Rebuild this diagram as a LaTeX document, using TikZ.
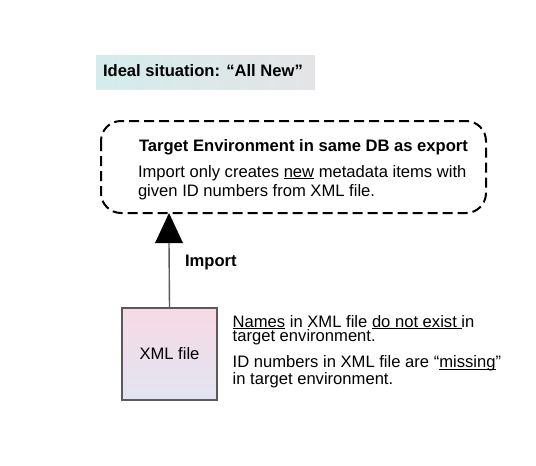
\documentclass[tikz,border=0pt]{standalone}
\usepackage{fontspec}
\setmainfont{Liberation Sans}
\newcommand\myul[1]{\setbox0\hbox{#1}\rlap{\rule[-1.6pt]{\wd0}{0.9pt}}\box0\relax}
\definecolor{titlebgA}{RGB}{212,236,236}
\definecolor{titlebgB}{RGB}{228,228,230}
\definecolor{xmlA}{RGB}{246,218,228}
\definecolor{xmlB}{RGB}{226,228,242}
\definecolor{edgegray}{RGB}{90,90,90}
\tikzset{
  txt/.style={inner sep=0pt, outer sep=0pt, anchor=base west, align=left, font=\fontsize{16.6}{18.5}\selectfont},
  boldtxt/.style={txt, font=\fontsize{16.6}{18.5}\selectfont\bfseries},
  tighttxt/.style={txt, font=\fontsize{16.6}{13.4}\selectfont},
}
\begin{document}
\begin{tikzpicture}[x=1pt,y=-1pt]
\useasboundingbox (0,0) rectangle (536,466);
% title background
\shade[left color=titlebgA, right color=titlebgB] (96,55) rectangle (315,89);
\node[boldtxt] (title) at (103,76.7) {Ideal situation: “All New”};
% target environment box
\draw[line width=2pt, dash pattern=on 10pt off 5pt, rounded corners=20pt] (101,121) rectangle (486,213);
\coordinate (tgtbottom) at (169,213);
\node[boldtxt] (tgthead) at (139,151.7) {Target Environment in same DB as export};
% anchor base = baseline of the last line
\node[txt] (tgtbody) at (138,196) {Import only creates \myul{new} metadata items with\\given ID numbers from XML file.};
% XML file box
\node[draw=edgegray, line width=1.4pt, minimum width=95pt, minimum height=92pt, inner sep=0pt,
      top color=xmlA, bottom color=xmlB, font=\fontsize{16.6}{18.5}\selectfont] (xml) at (169.5,354) {XML file};
% arrow
\draw[edgegray, line width=1.4pt] (xml.north) -- (169,242);
\fill[black] (tgtbottom) -- (183,243) -- (155,243) -- cycle;
\node[boldtxt] (imp) at (185,266.7) {Import};
% right notes
\node[tighttxt] (note1) at (232.7,341.7) {\myul{Names} in XML file \myul{do not exist }in\\target environment.};
\node[tighttxt] (note2) at (232.7,384.3) {ID numbers in XML file are “\myul{missing}”\\in target environment.};
\end{tikzpicture}
\end{document}
